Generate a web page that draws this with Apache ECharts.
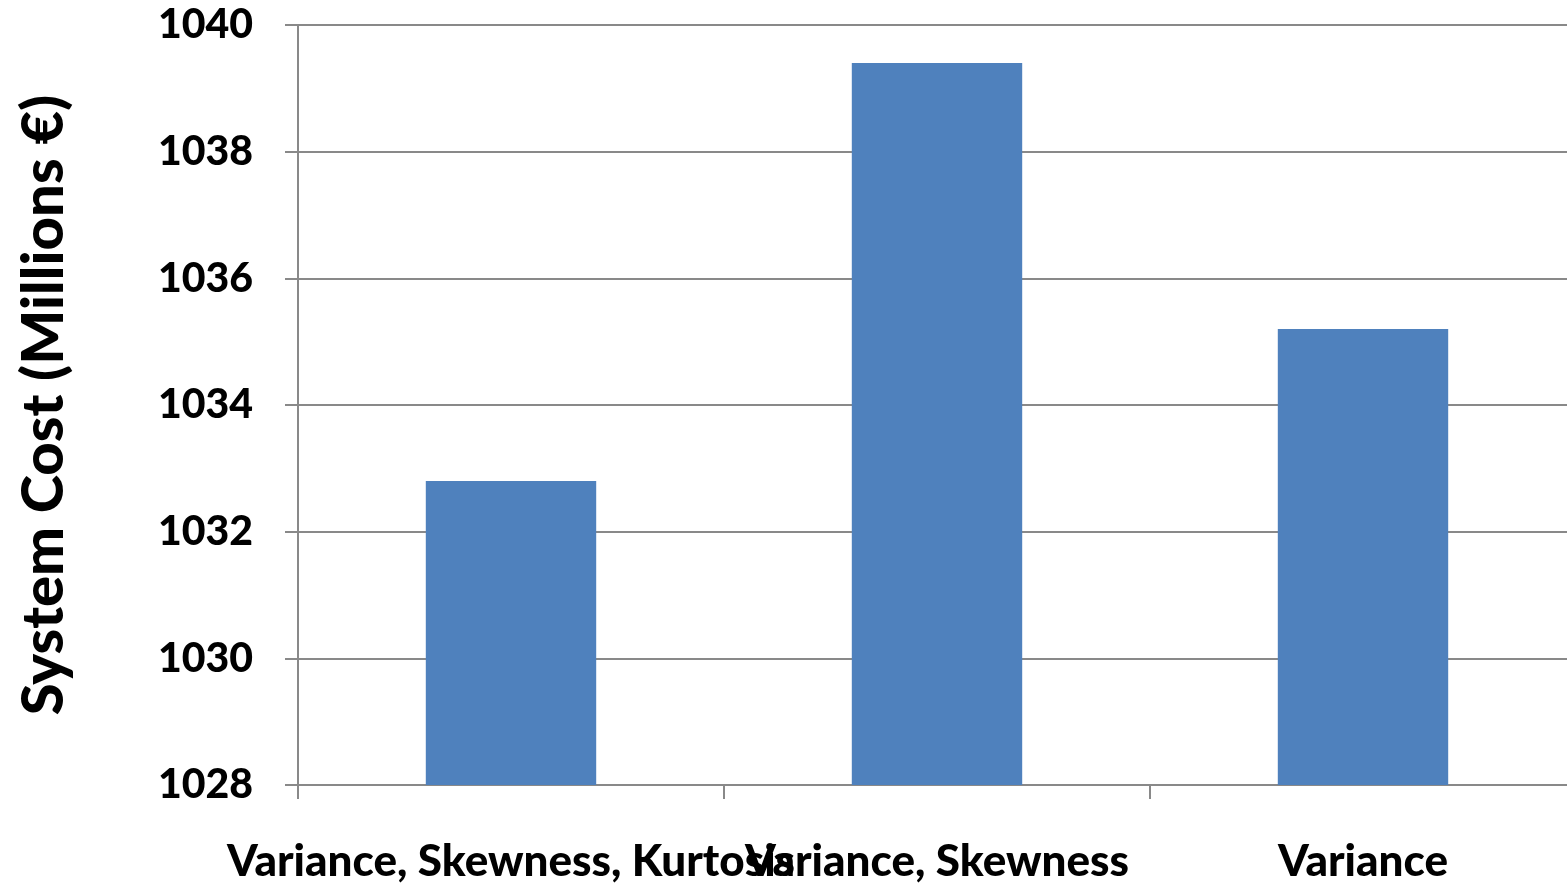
<!DOCTYPE html>
<html>
<head>
<meta charset="utf-8">
<script src="https://cdn.jsdelivr.net/npm/echarts@6/dist/echarts.min.js"></script>
<style>
  html, body { margin: 0; padding: 0; background: #fff; }
  #chart { width: 1567px; height: 885px; }
</style>
</head>
<body>
<div id="chart"></div>
<script>
// categories and values
const categories = ['Variance, Skewness, Kurtosis', 'Variance, Skewness', 'Variance']
const systemCost = [1032.8, 1039.4, 1035.2]

const font = 'Lato, "Open Sans", sans-serif'
const grey = '#898989'

const myChart = echarts.init(document.getElementById('chart'))
const options = {
  animation: false,
  grid: {
    left: 298,
    right: -9, // the plot runs a little past the right edge
    top: 25,
    bottom: 100,
    outerBoundsMode: 'none'
  },
  xAxis: {
    type: 'category',
    data: categories,
    axisLine: { lineStyle: { color: grey, width: 2 } },
    axisTick: { show: true, length: 14, lineStyle: { color: grey, width: 2 } },
    axisLabel: {
      interval: 0,
      margin: 55,
      color: '#000',
      fontFamily: font,
      fontWeight: 900,
      fontSize: 44
    }
  },
  yAxis: {
    type: 'value',
    min: 1028,
    max: 1040,
    interval: 2,
    name: 'System Cost (Millions €)',
    nameLocation: 'middle',
    nameGap: 225,
    nameTextStyle: {
      color: '#000',
      fontFamily: font,
      fontWeight: 900,
      fontSize: 58
    },
    axisLine: { show: true, lineStyle: { color: grey, width: 2 } },
    axisTick: { show: true, length: 13, lineStyle: { color: grey, width: 2 } },
    axisLabel: {
      margin: 45,
      color: '#000',
      fontFamily: font,
      fontWeight: 900,
      fontSize: 41,
      formatter: (v) => String(v)
    },
    splitLine: { lineStyle: { color: grey, width: 2 } }
  },
  series: [
    {
      type: 'bar',
      data: systemCost,
      barWidth: '40%',
      itemStyle: { color: '#4F81BD' }
    }
  ]
}
myChart.setOption(options, true)
</script>
</body>
</html>
